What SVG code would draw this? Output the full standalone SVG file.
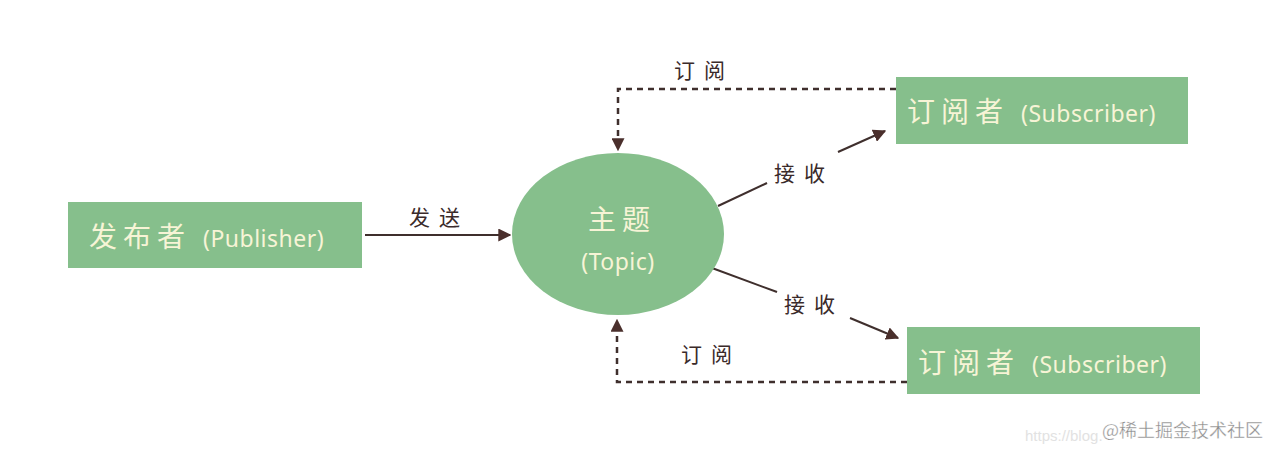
<svg xmlns="http://www.w3.org/2000/svg" width="1280" height="456" viewBox="0 0 1280 456">
<defs>
<marker id="ah" viewBox="0 0 10 10" refX="9" refY="5" markerWidth="13" markerHeight="13" markerUnits="userSpaceOnUse" orient="auto">
<path d="M0,0 L10,5 L0,10 Z" fill="#4a2f2c"/>
</marker>
<style>
.box{fill:#86bf8c;}
.nt{font-family:"Noto Sans CJK SC","Noto Sans",sans-serif;font-size:28px;fill:#f7f4d6;letter-spacing:6px;}
.nl{font-family:"Noto Sans",sans-serif;font-size:23px;fill:#f7f4d6;letter-spacing:0.5px;}
.lbl{font-family:"Noto Sans CJK SC",sans-serif;font-size:21px;fill:#3a2a2a;letter-spacing:9px;}
.ln{stroke:#3f2f2d;stroke-width:2;fill:none;}
.dash{stroke:#3f2f2d;stroke-width:2.5;fill:none;stroke-dasharray:6,5;}
</style>
</defs>
<rect width="1280" height="456" fill="#ffffff"/>
<g id="connectors">
<line class="ln" x1="365" y1="235" x2="510" y2="235" marker-end="url(#ah)"/>
<line class="ln" x1="718" y1="206" x2="767" y2="183"/>
<line class="ln" x1="838" y1="152" x2="885" y2="131" marker-end="url(#ah)"/>
<line class="ln" x1="712" y1="268" x2="777" y2="292"/>
<line class="ln" x1="850" y1="318" x2="898" y2="338" marker-end="url(#ah)"/>
<path class="dash" d="M896,89 H618 V150" marker-end="url(#ah)"/>
<path class="dash" d="M907,382 H617 V320" marker-end="url(#ah)"/>
<text class="lbl" x="409" y="225">发送</text>
<text class="lbl" x="674" y="78">订阅</text>
<text class="lbl" x="774" y="181">接收</text>
<text class="lbl" x="784" y="312">接收</text>
<text class="lbl" x="681" y="362">订阅</text>
</g>
<g id="publisher">
<rect class="box" x="68" y="202" width="294" height="66"/>
<text x="89" y="247"><tspan class="nt">发布者</tspan><tspan class="nl" dx="12">(Publisher)</tspan></text>
</g>
<g id="topic">
<ellipse cx="618" cy="234" rx="106" ry="81" fill="#86bf8c"/>
<text class="nt" x="622" y="230" text-anchor="middle">主题</text>
<text class="nl" x="618" y="270" text-anchor="middle" letter-spacing="2">(Topic)</text>
</g>
<g id="subscriber1">
<rect class="box" x="896" y="77" width="292" height="67"/>
<text x="907" y="122"><tspan class="nt">订阅者</tspan><tspan class="nl" dx="12">(Subscriber)</tspan></text>
</g>
<g id="subscriber2">
<rect class="box" x="907" y="327" width="293" height="67"/>
<text x="918" y="373"><tspan class="nt">订阅者</tspan><tspan class="nl" dx="12">(Subscriber)</tspan></text>
</g>
<g id="watermark">
<text x="1025" y="441" font-family="Liberation Sans, sans-serif" font-size="15" fill="#e2e2e2">https://blog.</text>
<text x="1102" y="437" font-family="Noto Sans CJK SC, sans-serif" font-size="18" fill="#8a8a8a" stroke="#ffffff" stroke-width="0.3">@稀土掘金技术社区</text>
</g>
</svg>
